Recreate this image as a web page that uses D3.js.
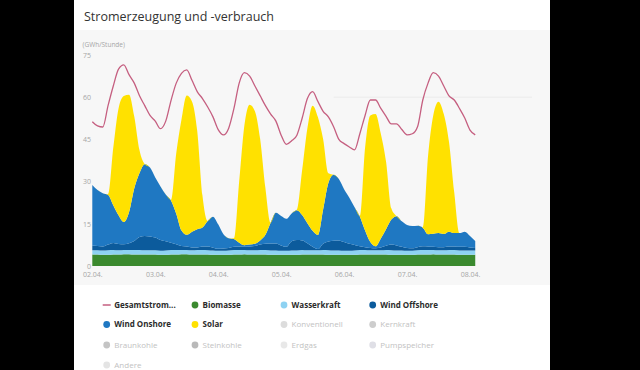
<!DOCTYPE html>
<html>
<head>
<meta charset="utf-8">
<script src="https://cdn.jsdelivr.net/npm/d3@7"></script>
<style>
  html, body { margin: 0; padding: 0; background: #000; }
  svg { display: block; }
  text { font-family: "Open Sans", sans-serif; }
</style>
</head>
<body>
<svg id="chart"></svg>
<script>
// hours since 02.04. 00:00, one value every 2 hours
const hours = d3.range(0, 147, 2);
const dayTicks = [0, 24, 48, 72, 96, 120, 144];
const dayLabels = ["02.04.", "03.04.", "04.04.", "05.04.", "06.04.", "07.04.", "08.04."];
const yTicks = [0, 15, 30, 45, 60, 75];

// GWh per hour
const biomasse = [
  4.1, 4.1, 4.0, 4.0, 4.1, 4.1, 4.2, 4.2, 4.1, 4.1, 4.1, 4.1,
  4.1, 4.0, 4.0, 4.1, 4.1, 4.2, 4.2, 4.1, 4.1, 4.1, 4.1, 4.0,
  4.0, 4.0, 4.0, 4.1, 4.1, 4.2, 4.1, 4.1, 4.1, 4.1, 4.0, 4.0,
  4.0, 4.0, 4.0, 4.0, 4.1, 4.1, 4.1, 4.1, 4.1, 4.0, 4.0, 4.0,
  4.0, 4.0, 4.0, 4.1, 4.1, 4.1, 4.1, 4.1, 4.1, 4.0, 4.0, 4.0,
  4.0, 4.0, 4.1, 4.1, 4.1, 4.2, 4.1, 4.1, 4.1, 4.1, 4.0, 4.0,
  4.0, 4.0
];
const wasserkraft = [
  1.5, 1.5, 1.5, 1.6, 1.6, 1.5, 1.5, 1.5, 1.6, 1.6, 1.5, 1.5,
  1.5, 1.4, 1.5, 1.6, 1.6, 1.5, 1.5, 1.5, 1.6, 1.6, 1.5, 1.5,
  1.4, 1.4, 1.5, 1.6, 1.6, 1.5, 1.5, 1.5, 1.6, 1.6, 1.5, 1.5,
  1.4, 1.4, 1.5, 1.5, 1.6, 1.5, 1.5, 1.5, 1.6, 1.6, 1.5, 1.5,
  1.4, 1.4, 1.5, 1.6, 1.6, 1.5, 1.5, 1.5, 1.6, 1.6, 1.5, 1.5,
  1.4, 1.4, 1.5, 1.6, 1.6, 1.5, 1.5, 1.5, 1.6, 1.6, 1.5, 1.5,
  1.5, 1.5
];
const windOffshore = [
  1.6, 1.5, 1.4, 2.0, 2.5, 2.2, 2.0, 2.4, 3.2, 4.6, 5.1, 4.9,
  4.5, 3.8, 3.3, 2.6, 2.0, 1.4, 1.2, 1.0, 0.9, 1.2, 1.3, 1.0,
  0.7, 0.8, 0.9, 1.1, 1.2, 1.1, 1.3, 1.5, 1.9, 2.2, 2.5, 2.5,
  1.9, 1.4, 3.3, 3.7, 3.4, 2.5, 1.2, 0.4, 2.2, 3.1, 3.5, 3.6,
  3.1, 2.5, 2.0, 1.3, 1.0, 0.8, 0.7, 1.0, 1.5, 2.0, 1.8, 1.3,
  1.0, 0.9, 1.1, 1.3, 1.2, 1.1, 1.1, 1.1, 1.2, 1.2, 1.3, 1.3,
  1.1, 0.9
];
const windOnshore = [
  21.6, 19.9, 19.0, 17.7, 13.4, 10.2, 7.9, 11.0, 18.7, 22.8, 25.5, 24.5,
  21.4, 19.1, 16.6, 15.0, 10.9, 5.5, 4.2, 5.6, 6.5, 6.8, 9.1, 11.0,
  8.7, 5.1, 3.5, 2.8, 1.4, 0.6, 0.7, 0.8, 1.5, 3.2, 7.4, 10.9,
  10.5, 10.0, 9.9, 10.6, 9.0, 7.1, 5.7, 5.0, 12.2, 20.8, 23.4, 21.8,
  18.8, 16.4, 13.4, 10.6, 5.9, 2.1, 0.7, 3.2, 5.9, 8.9, 10.4, 9.1,
  8.2, 7.9, 7.6, 6.6, 4.4, 4.7, 5.0, 4.7, 5.3, 4.8, 4.9, 5.4,
  4.1, 2.5
];
const solar = [
  0, 0, 0, 0.3, 20.5, 38.0, 44.8, 41.8, 25.5, 8.0, 0, 0,
  0, 0, 0, 0.2, 21.5, 39.5, 49.5, 46.3, 35.0, 11.4, 0, 0,
  0, 0, 0, 0.3, 21.8, 42.7, 49.7, 47.1, 36.0, 16.6, 0, 0,
  0, 0, 0, 0.3, 16.0, 33.8, 44.5, 42.0, 25.0, 3.5, 0, 0,
  0, 0, 0, 0.2, 29.5, 45.0, 47.0, 37.2, 24.0, 4.0, 0, 0,
  0, 0, 0, 0.3, 27.8, 42.1, 46.7, 42.6, 31.9, 14.4, 0, 0,
  0, 0
];
const verbrauch = [
  51.3, 49.8, 49.4, 57.0, 64.0, 70.0, 71.5, 68.0, 65.0, 60.5, 57.0, 53.5,
  51.5, 48.8, 51.5, 58.8, 65.0, 68.5, 69.7, 66.0, 62.0, 59.5, 56.5, 53.0,
  48.5, 46.6, 49.0, 56.0, 65.0, 68.7, 67.5, 64.0, 60.5, 57.0, 54.0, 51.5,
  46.5, 43.2, 44.5, 46.5, 52.5, 59.5, 62.0, 58.5, 55.0, 53.0, 49.5, 45.0,
  43.5, 42.3, 41.3, 47.0, 53.5, 59.0, 59.0, 56.0, 53.2, 50.5, 50.5, 48.5,
  46.6, 47.0, 49.5, 59.0, 65.0, 68.7, 67.5, 64.0, 60.5, 59.0, 56.0, 52.6,
  48.3, 46.6
];

const stackKeys = ["Biomasse", "Wasserkraft", "Wind Offshore", "Wind Onshore", "Solar"];
const stackSeries = [biomasse, wasserkraft, windOffshore, windOnshore, solar];
const stackColors = ["#3b8a2f", "#8ed2f2", "#0c5b9c", "#1f78c2", "#ffe100"];
const lineColor = "#c55f80";

const legendNames = ["Gesamtstrom...", "Biomasse", "Wasserkraft", "Wind Offshore",
  "Wind Onshore", "Solar", "Konventionell", "Kernkraft",
  "Braunkohle", "Steinkohle", "Erdgas", "Pumpspeicher", "Andere"];
const legendColors = [lineColor, "#3b8a2f", "#8ed2f2", "#0c5b9c",
  "#1f78c2", "#ffe100", "#dcdcdc", "#cdcdcd",
  "#c4c4c4", "#b9b9b9", "#e8e8e8", "#dfdfe6", "#e4e4e4"];
const legendActive = [true, true, true, true, true, true, false, false, false, false, false, false, false];

// layout
const W = 640, H = 370;
const card = {left: 74, right: 550};
const plot = {top: 30, bottom: 285};

const svg = d3.select('#chart').attr('width', W).attr('height', H);

svg.append('rect').attr('width', W).attr('height', H).attr('fill', '#000');
svg.append('rect')
  .attr('x', card.left).attr('y', 0)
  .attr('width', card.right - card.left).attr('height', H)
  .attr('fill', '#fff');
svg.append('rect')
  .attr('x', card.left).attr('y', plot.top)
  .attr('width', card.right - card.left).attr('height', plot.bottom - plot.top)
  .attr('fill', '#f7f7f7');

svg.append('text')
  .attr('x', 84).attr('y', 21)
  .attr('font-size', 12.5)
  .attr('fill', '#333')
  .text('Stromerzeugung und -verbrauch');

// scales
const x = d3.scaleLinear().domain([0, 144]).range([92.3, 470]);
const y = d3.scaleLinear().domain([0, 75]).range([266, 55]);

// faint gridline
svg.append('line')
  .attr('x1', x(92)).attr('x2', 532)
  .attr('y1', y(60)).attr('y2', y(60))
  .attr('stroke', '#ebebeb').attr('stroke-width', 1);

// y axis
const yAxis = svg.append('g')
  .attr('transform', 'translate(91,0)')
  .call(d3.axisLeft(y).tickValues(yTicks).tickSize(0).tickPadding(0));
yAxis.select('.domain').remove();
yAxis.selectAll('text')
  .attr('font-family', '"Open Sans", sans-serif')
  .attr('font-size', 7)
  .attr('fill', '#a6a6a6');

svg.append('text')
  .attr('x', 82.5).attr('y', 47)
  .attr('font-size', 6.5)
  .attr('fill', '#a6a6a6')
  .text('(GWh/Stunde)');

// stacked areas
const table = hours.map(function(h, i) {
  const row = {hour: h};
  stackKeys.forEach(function(k, j) { row[k] = stackSeries[j][i]; });
  return row;
});
const stacked = d3.stack().keys(stackKeys)(table);

const area = d3.area()
  .curve(d3.curveMonotoneX)
  .x(function(d) { return x(d.data.hour); })
  .y0(function(d) { return y(d[0]); })
  .y1(function(d) { return y(d[1]); });

svg.append('g').selectAll('path')
  .data(stacked)
  .enter()
  .append('path')
  .attr('d', area)
  .attr('fill', function(d, i) { return stackColors[i]; });

// consumption line
const line = d3.line()
  .curve(d3.curveMonotoneX)
  .x(function(d, i) { return x(hours[i]); })
  .y(function(d) { return y(d); });

svg.append('path')
  .datum(verbrauch)
  .attr('d', line)
  .attr('fill', 'none')
  .attr('stroke', lineColor)
  .attr('stroke-width', 1.3);

// x axis
const xAxis = svg.append('g')
  .attr('transform', 'translate(0,272)')
  .call(d3.axisBottom(x).tickValues(dayTicks)
    .tickFormat(function(d, i) { return dayLabels[i]; })
    .tickSize(0).tickPadding(0));
xAxis.select('.domain').remove();
xAxis.selectAll('text')
  .attr('font-family', '"Open Sans", sans-serif')
  .attr('font-size', 7)
  .attr('fill', '#a6a6a6');

// legend
const colX = [106.7, 195, 284, 372.7];
const rowY = [305, 324.5, 345, 365];

const legend = svg.append('g').selectAll('g')
  .data(legendNames)
  .enter()
  .append('g')
  .attr('transform', function(d, i) {
    return 'translate(' + colX[i % 4] + ',' + rowY[Math.floor(i / 4)] + ')';
  });

legend.each(function(d, i) {
  const g = d3.select(this);
  if (i === 0) {
    g.append('line')
      .attr('x1', -4).attr('x2', 4)
      .attr('stroke', legendColors[i]).attr('stroke-width', 1.5);
  } else {
    g.append('circle')
      .attr('r', 3.4)
      .attr('fill', legendColors[i]);
  }
  g.append('text')
    .attr('x', 7.6)
    .attr('dy', '0.35em')
    .attr('font-size', 8)
    .attr('font-weight', legendActive[i] ? 700 : 400)
    .attr('fill', legendActive[i] ? '#2b2b2b' : '#c2c2c2')
    .text(d);
});
</script>
</body>
</html>
